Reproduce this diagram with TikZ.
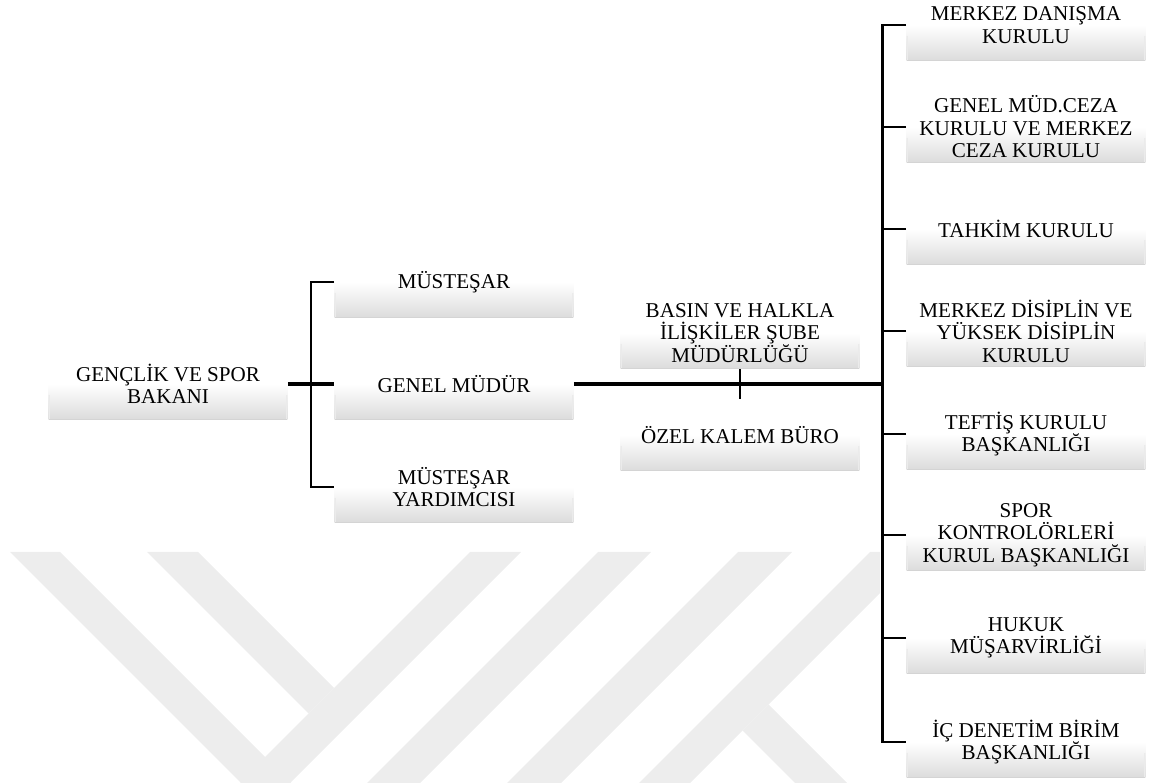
\documentclass[tikz,border=0pt]{standalone}
\usepackage{fontspec}
\setmainfont{Liberation Serif}
\usetikzlibrary{calc}

\begin{document}
\begin{tikzpicture}[x=0.02cm, y=-0.02cm,
        unit/.style={minimum width=4.78cm, minimum height=1.44cm, inner sep=0pt,
            align=center, font=\fontsize{12}{12.8}\selectfont,
            path picture={
                \shade[top color=white, bottom color=black!14, middle color=white]
                    (path picture bounding box.north west) rectangle (path picture bounding box.south east);
                \draw[black!8, line width=1.2pt]
                    ([yshift=-6pt]path picture bounding box.west) -- (path picture bounding box.south west)
                    ([yshift=-6pt]path picture bounding box.east) -- (path picture bounding box.south east);
                \draw[black!17, line width=0.8pt]
                    (path picture bounding box.south west) -- (path picture bounding box.south east);
            }},
        trunk/.style={line width=2.3pt},
        branch/.style={line width=1.6pt},
        wmark/.style={fill=black!7}]
        \useasboundingbox (0,0) rectangle (1150,783);

        % watermark in the background
        \begin{scope}
        \clip (0,552) rectangle (880,783);
        \fill[wmark] (10,552) -- (60,552) -- (360,852) -- (310,852) -- cycle;
        \fill[wmark] (147,552) -- (198,552) -- (334,688) -- (308.5,713.5) -- cycle;
        \fill[wmark] (470,552) -- (521,552) -- (265.5,807.5) -- (240,782) -- cycle;
        \fill[wmark] (598,552) -- (651,552) -- (353,850) -- (300,850) -- cycle;
        \fill[wmark] (738,552) -- (792,552) -- (492,852) -- (438,852) -- cycle;
        \fill[wmark] (870,552) -- (921,552) -- (621,852) -- (570,852) -- cycle;
        \fill[wmark] (768.5,704.5) -- (916,852) -- (864,852) -- (742.5,730.5) -- cycle;
        \end{scope}

        % boxes
        \node[unit] (bakan) at (168,384) {GENÇLİK VE SPOR\\BAKANI};
        \node[unit] (mustesar) at (454,282) {MÜSTEŞAR};
        \node[unit] (genmud) at (454,384) {GENEL MÜDÜR};
        \node[unit] (yardimci) at (454,487) {MÜSTEŞAR\\YARDIMCISI};
        \node[unit] (basin) at (740,333) {BASIN VE HALKLA\\İLİŞKİLER ŞUBE\\MÜDÜRLÜĞÜ};
        \node[unit] (ozel) at (740,435) {ÖZEL KALEM BÜRO};
        \node[unit] (r1) at (1026,25) {MERKEZ DANIŞMA\\KURULU};
        \node[unit] (r2) at (1026,127) {GENEL MÜD.CEZA\\KURULU VE MERKEZ\\CEZA KURULU};
        \node[unit] (r3) at (1026,229) {TAHKİM KURULU};
        \node[unit] (r4) at (1026,331) {MERKEZ DİSİPLİN VE\\YÜKSEK DİSİPLİN\\KURULU};
        \node[unit] (r5) at (1026,434) {TEFTİŞ KURULU\\BAŞKANLIĞI};
        \node[unit] (r6) at (1026,535) {SPOR\\KONTROLÖRLERİ\\KURUL BAŞKANLIĞI};
        \node[unit] (r7) at (1026,638) {HUKUK\\MÜŞARVİRLİĞİ};
        \node[unit] (r8) at (1026,742) {İÇ DENETİM BİRİM\\BAŞKANLIĞI};

        % connectors
        \coordinate (lj) at ($(bakan.east)!0.5!(genmud.west)$);
        \coordinate (rj) at ($(r1.west)+(-24,0)$);
        \draw[trunk] (bakan.east) -- (genmud.west);
        \draw[branch] (mustesar.west) -| (lj) |- (yardimci.west);
        \draw[trunk] (genmud.east) -- (genmud.east -| rj);
        \draw[branch] (basin.south) -- (ozel.north);
        \draw[branch] (r1.west) -| (r8.west -| rj) -- (r8.west);
        \draw[branch] (r2.west) -- (r2.west -| rj);
        \draw[branch] (r3.west) -- (r3.west -| rj);
        \draw[branch] (r4.west) -- (r4.west -| rj);
        \draw[branch] (r5.west) -- (r5.west -| rj);
        \draw[branch] (r6.west) -- (r6.west -| rj);
        \draw[branch] (r7.west) -- (r7.west -| rj);
\end{tikzpicture}
\end{document}
